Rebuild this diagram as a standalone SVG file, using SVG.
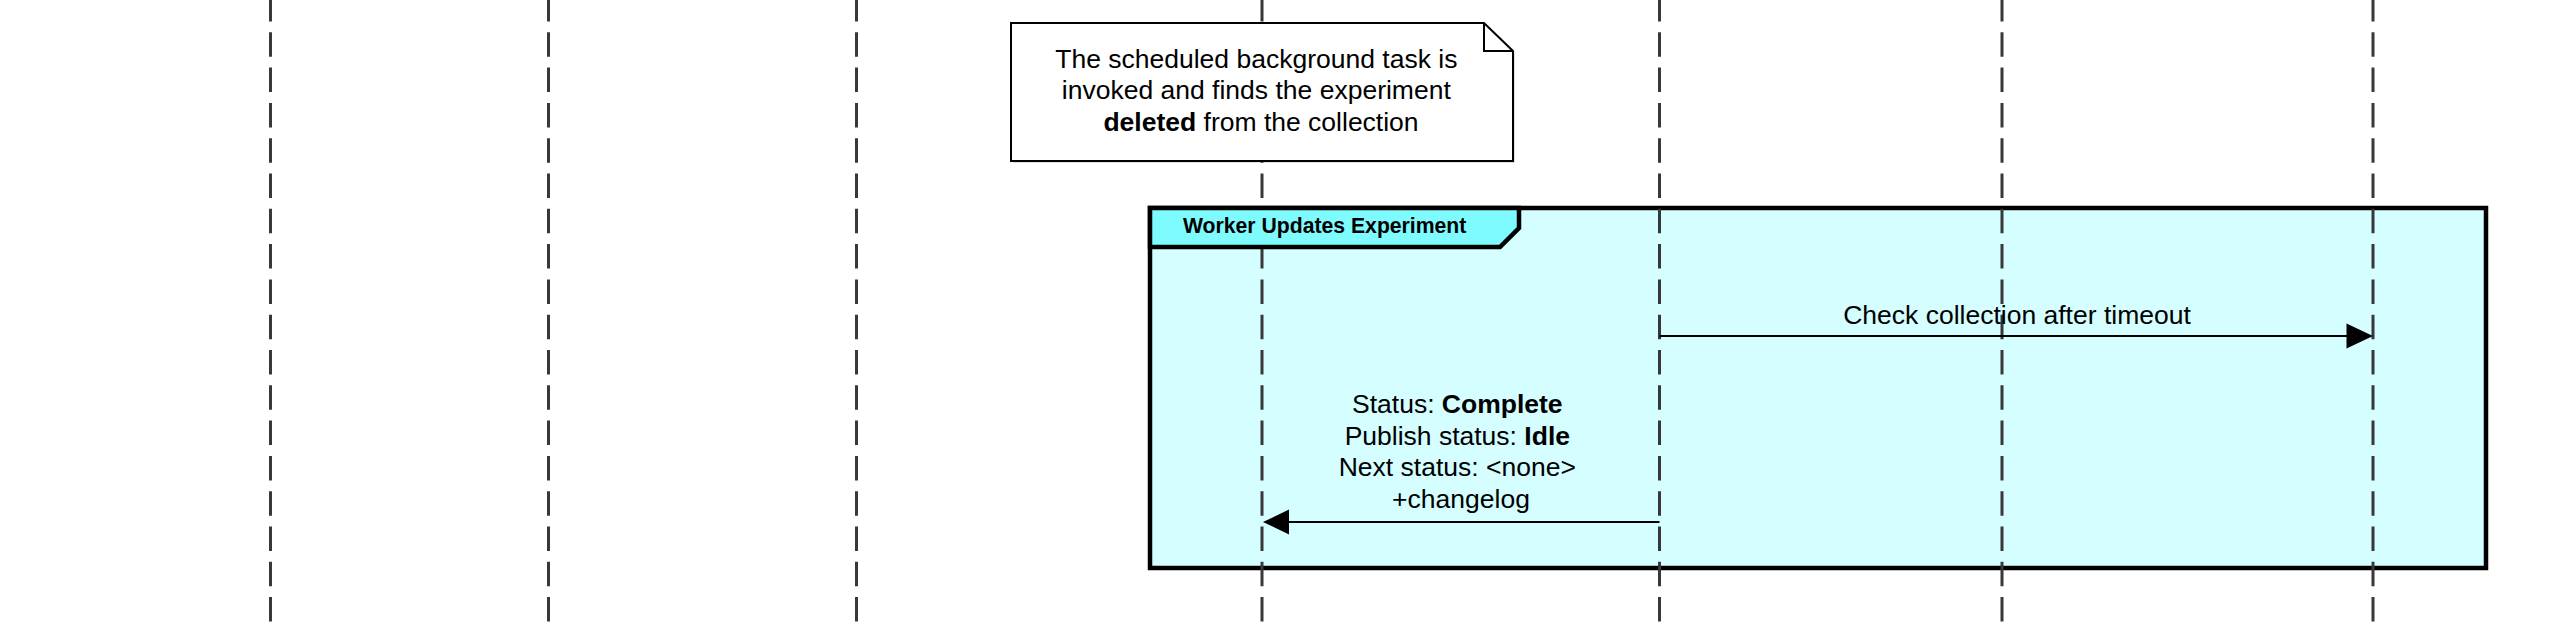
<svg xmlns="http://www.w3.org/2000/svg" width="2576" height="632" viewBox="0 0 2576 632">
<style>
  .life{stroke:#383838;stroke-width:3;stroke-dasharray:24.5 10.8;fill:none}
  .txt{font-family:"Liberation Sans",Arial,Helvetica,sans-serif;font-size:26.5px;fill:#000}
  .b{font-weight:bold}
  .msg{stroke:#000;stroke-width:2.2;fill:none}
  .head{fill:#000;stroke:none}
</style>
<rect width="2576" height="632" fill="#fff"/>
<g id="frame-body">
  <rect x="1152" y="210" width="1336" height="360" fill="#000" opacity="0.18"/>
  <rect x="1150" y="208" width="1336" height="360" fill="#D4FEFF" stroke="#000" stroke-width="4.5"/>
</g>
<g id="lifelines">
  <line class="life" x1="270.5" y1="-3" x2="270.5" y2="640"/>
  <line class="life" x1="548.5" y1="-3" x2="548.5" y2="640"/>
  <line class="life" x1="856.5" y1="-3" x2="856.5" y2="640"/>
  <line class="life" x1="1262" y1="-3" x2="1262" y2="640"/>
  <line class="life" x1="1659.5" y1="-3" x2="1659.5" y2="640"/>
  <line class="life" x1="2002" y1="-3" x2="2002" y2="640"/>
  <line class="life" x1="2373" y1="-3" x2="2373" y2="640"/>
</g>
<g id="frame-tab">
  <path d="M1150,208 L1519,208 L1519,228 L1500,247 L1150,247 Z" fill="#7DFBFF" stroke="#000" stroke-width="4.5" stroke-linejoin="miter"/>
  <text class="txt b" x="1183" y="233" style="font-size:21.2px">Worker Updates Experiment</text>
</g>
<g id="note">
  <path d="M1013,25 L1486,25 L1515,53 L1515,163 L1013,163 Z" fill="#000" opacity="0.12"/>
  <path d="M1011,23 L1484,23 L1513,51 L1513,161 L1011,161 Z" fill="#fff" stroke="#000" stroke-width="2"/>
  <path d="M1484,23 L1484,51 L1513,51" fill="none" stroke="#000" stroke-width="2"/>
  <text class="txt" text-anchor="middle">
    <tspan x="1260" y="67.5">The scheduled background task is</tspan>
    <tspan x="1260" y="99">invoked and finds the experiment</tspan>
    <tspan x="1261" y="130.5"><tspan class="b">deleted</tspan> from the collection</tspan>
  </text>
</g>
<g id="connectors">
  <g id="msg-check">
    <line class="msg" x1="1659.5" y1="336" x2="2350" y2="336"/>
    <polygon class="head" points="2373,336 2346.5,323.5 2346.5,348.5"/>
    <text class="txt" x="2017" y="323.5" text-anchor="middle">Check collection after timeout</text>
  </g>
  <g id="msg-status">
    <line class="msg" x1="1659.5" y1="522" x2="1285" y2="522"/>
    <polygon class="head" points="1263,522 1289,509.5 1289,534.5"/>
    <text class="txt" text-anchor="middle">
      <tspan x="1461" y="413.3">Status: <tspan class="b">Complete</tspan></tspan>
      <tspan x="1461" y="444.8">Publish status: <tspan class="b">Idle</tspan></tspan>
      <tspan x="1461" y="476.3">Next status: &lt;none&gt;</tspan>
      <tspan x="1461" y="507.8">+changelog</tspan>
    </text>
  </g>
</g>
</svg>
